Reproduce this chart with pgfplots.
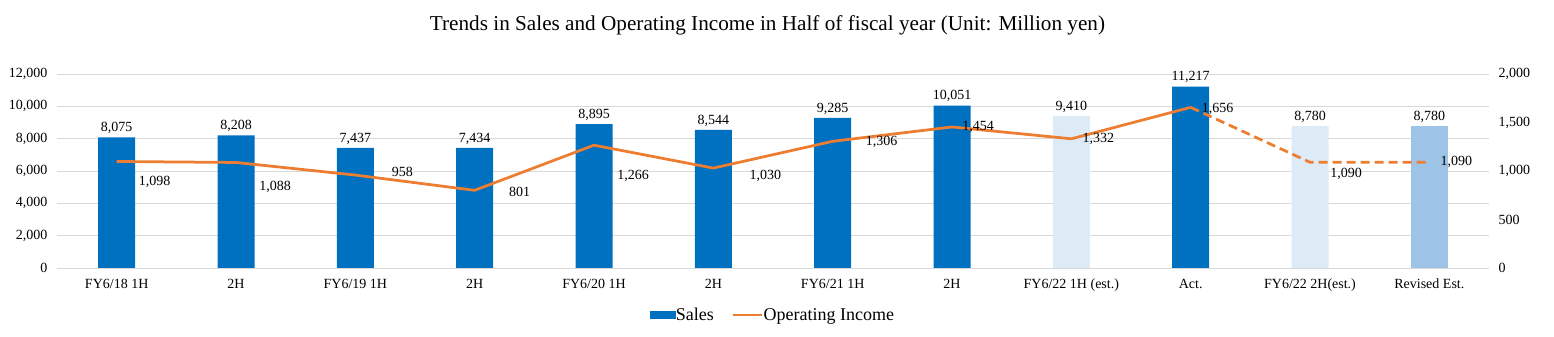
\documentclass[border=0pt]{standalone}
\usepackage{fontspec}
\setmainfont{Liberation Serif}
\usepackage{pgfplots}
\usepackage{pgfplotstable}
\pgfplotsset{compat=1.18}
\definecolor{dblue}{HTML}{0070C0}
\definecolor{lblue}{HTML}{DDEBF7}
\definecolor{mblue}{HTML}{9DC3E6}
\definecolor{orng}{HTML}{ED7D31}
\definecolor{gridc}{HTML}{D9D9D9}

\pgfplotstableread{
x y
0 8075
1 8208
2 7437
3 7434
4 8895
5 8544
6 9285
7 10051
9 11217
}\salesdark
\pgfplotstableread{
x y
8 9410
10 8780
}\saleslight
\pgfplotstableread{
x y
11 8780
}\salesmed
\pgfplotstableread{
x y dx dy
0 1098 38 -20
1 1088 39 -24
2 958 47 3
3 801 45 -2
4 1266 39 -31
5 1030 52 -8
6 1306 49 -1
7 1454 26 0
8 1332 27 0
9 1656 27 -2
10 1090 36 -12
11 1090 27 0
}\opinc
\pgfplotstableread{
x y
0 1098
1 1088
2 958
3 801
4 1266
5 1030
6 1306
7 1454
8 1332
9 1656
}\opsolid
\pgfplotstableread{
x y
9 1656
10 1090
11 1090
}\opdash

\newcommand{\numfont}{\fontsize{14}{16}\selectfont}

\begin{document}
\begin{tikzpicture}
\useasboundingbox (-57pt,-69pt) rectangle (1497pt,268pt);
\begin{axis}[
  scale only axis, width=1432pt, height=194pt,
  xmin=-0.5, xmax=11.5, ymin=0, ymax=12000,
  xtick={0,...,11},
  xticklabels={FY6/18 1H, 2H, FY6/19 1H, 2H, FY6/20 1H, 2H, FY6/21 1H, 2H, FY6/22 1H (est.), Act., FY6/22 2H(est.), Revised Est.},
  ytick={0,2000,...,12000},
  ymajorgrids, grid style={gridc, line width=0.8pt},
  axis x line*=bottom, axis y line*=left,
  x axis line style={gridc, line width=0.8pt, -},
  y axis line style={draw=none},
  tick style={draw=none},
  ticklabel style={font=\numfont},
  xticklabel style={yshift=-3pt},
  scaled y ticks=false,
  yticklabel style={xshift=-6pt, /pgf/number format/.cd, fixed, 1000 sep={,}, assume math mode=true},
  ybar, bar width=37pt,
  nodes near coords={\pgfmathprintnumber[fixed,1000 sep={,},assume math mode=true]{\pgfplotspointmeta}},
  nodes near coords style={font=\numfont, text=black},
  legend style={at={(rel axis cs:0.5,0)}, anchor=center, yshift=-47pt, draw=none, fill=none,
    legend columns=-1, font=\fontsize{18}{20}\selectfont, inner sep=0pt,
    /tikz/every even column/.append style={column sep=16pt},
    /tikz/every odd column/.append style={column sep=-2pt}},
  legend cell align=left,
]
\addplot[fill=dblue, draw=none, bar shift=0pt,
  legend image code/.code={\fill[dblue] (0pt,-4pt) rectangle (26pt,4pt);}] table {\salesdark};
\addlegendentry{Sales}
\addlegendimage{orng, line width=2.75pt, legend image code/.code={\draw[orng, line width=2.75pt] (0pt,0pt) -- (29pt,0pt);}}
\addlegendentry{Operating Income}
\addplot[fill=lblue, draw=none, bar shift=0pt, forget plot] table {\saleslight};
\addplot[fill=mblue, draw=none, bar shift=0pt, forget plot] table {\salesmed};
\end{axis}
\begin{axis}[
  scale only axis, width=1432pt, height=194pt,
  xmin=-0.5, xmax=11.5, ymin=0, ymax=2000,
  ytick={0,500,...,2000},
  axis y line*=right, hide x axis,
  y axis line style={draw=none},
  tick style={draw=none},
  ticklabel style={font=\numfont},
  scaled y ticks=false,
  yticklabel style={xshift=6pt, /pgf/number format/.cd, fixed, 1000 sep={,}, assume math mode=true},
]
\addplot[orng, line width=2.75pt, line join=round, mark=none] table {\opsolid};
\addplot[orng, line width=2.75pt, line join=round, mark=none, dash pattern=on 9pt off 5pt] table {\opdash};
\addplot[draw=none, mark=none,
  visualization depends on={\thisrow{dx}\as\dx},
  visualization depends on={\thisrow{dy}\as\dy},
  nodes near coords={\pgfmathprintnumber[fixed,1000 sep={,},assume math mode=true]{\pgfplotspointmeta}},
  nodes near coords style={font=\numfont, text=black, anchor=center, xshift=\dx pt, yshift=\dy pt},
] table[x=x, y=y] {\opinc};
\end{axis}
\node[font=\fontsize{21.2}{24}\selectfont] at (710.5pt,243pt) {Trends in Sales and Operating Income in Half of fiscal year (Unit: Million yen)};
\end{tikzpicture}
\end{document}
